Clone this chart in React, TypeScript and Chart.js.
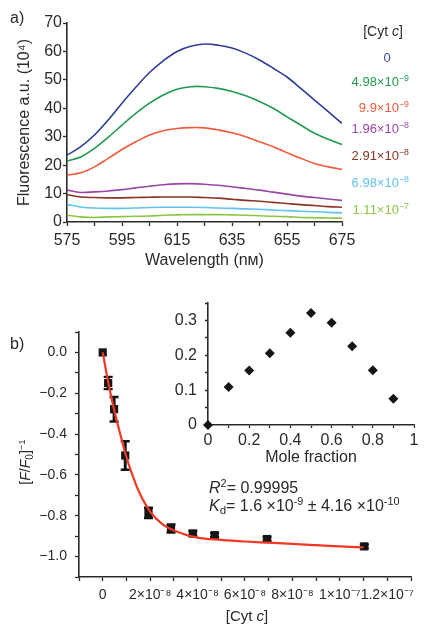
import React, { useEffect, useRef } from 'react';
import { Chart, registerables } from 'chart.js';

Chart.register(...registerables);

// ---------- Panel a: fluorescence spectra ----------
const WAVELENGTHS = [575, 580, 585, 590, 595, 600, 605, 610, 615, 620, 625, 630, 635, 640, 645, 650, 655, 660, 665, 670, 675];
const SPEC_0 = [23.5, 26.5, 30.6, 35.9, 41.8, 47.4, 52.6, 56.7, 60.0, 61.8, 62.6, 62.2, 61.2, 59.4, 57.0, 54.1, 51.0, 47.0, 42.9, 38.8, 34.7];
const SPEC_498E9 = [21.5, 22.9, 25.9, 29.8, 34.1, 38.2, 41.8, 44.7, 46.7, 47.6, 47.6, 47.0, 45.9, 44.4, 42.4, 40.0, 37.0, 34.1, 31.2, 29.1, 27.3];
const SPEC_99E9 = [16.5, 17.3, 19.4, 22.4, 25.5, 28.2, 30.6, 32.1, 32.9, 33.2, 33.1, 32.4, 31.4, 30.0, 28.2, 26.5, 24.4, 22.4, 20.6, 19.4, 18.5];
const SPEC_196E8 = [11.2, 10.4, 10.6, 10.9, 11.4, 12.0, 12.6, 13.1, 13.4, 13.5, 13.3, 12.9, 12.4, 11.8, 11.2, 10.5, 9.8, 9.1, 8.6, 8.1, 7.6];
const SPEC_291E8 = [9.6, 8.8, 8.6, 8.5, 8.5, 8.6, 8.7, 8.8, 8.8, 8.8, 8.6, 8.4, 8.0, 7.6, 7.3, 6.9, 6.5, 6.1, 5.8, 5.4, 5.2];
const SPEC_698E8 = [6.2, 5.3, 4.9, 4.8, 4.8, 4.9, 5.1, 5.2, 5.2, 5.2, 5.1, 4.9, 4.8, 4.6, 4.5, 4.2, 4.0, 3.8, 3.6, 3.4, 3.2];
const SPEC_111E7 = [2.4, 1.8, 1.6, 1.8, 1.9, 2.0, 2.1, 2.4, 2.5, 2.6, 2.6, 2.6, 2.5, 2.4, 2.2, 2.0, 1.9, 1.6, 1.5, 1.4, 1.3];
const SPECTRA = [SPEC_0, SPEC_498E9, SPEC_99E9, SPEC_196E8, SPEC_291E8, SPEC_698E8, SPEC_111E7];
const CONC_MANTISSA = ['0', '4.98×10', '9.9×10', '1.96×10', '2.91×10', '6.98×10', '1.11×10'];
const CONC_EXPONENT = ['', '−9', '−9', '−8', '−8', '−8', '−7'];

const A_X_TICKS = [575, 585, 595, 605, 615, 625, 635, 645, 655, 665, 675];
const A_X_LABELS = ['575', '', '595', '', '615', '', '635', '', '655', '', '675'];
const A_Y_TICKS = [0, 10, 20, 30, 40, 50, 60, 70];
const A_Y_LABELS = ['0', '10', '20', '30', '40', '50', '60', '70'];

// ---------- Panel b: titration ----------
const B_X = [0, 2.3e-9, 4.8e-9, 9.5e-9, 1.93e-8, 2.88e-8, 3.8e-8, 4.72e-8, 6.93e-8, 1.103e-7];
const B_Y = [0, -0.15, -0.278, -0.505, -0.786, -0.862, -0.887, -0.895, -0.914, -0.95];
const B_ERR = [0, 0.03, 0.06, 0.07, 0.025, 0.02, 0.012, 0.01, 0.01, 0.01];
const FIT_X = [0, 2.5e-9, 5e-9, 7.5e-9, 1e-8, 1.25e-8, 1.5e-8, 2e-8, 2.5e-8, 3e-8, 4e-8, 5e-8, 6e-8, 7e-8, 8e-8, 9e-8, 1e-7, 1.1e-7];
const FIT_Y = [0, -0.157, -0.29, -0.405, -0.512, -0.6, -0.675, -0.78, -0.84, -0.872, -0.907, -0.918, -0.926, -0.932, -0.938, -0.944, -0.95, -0.955];

const B_X_TICKS = [-1e-8, 0, 1e-8, 2e-8, 3e-8, 4e-8, 5e-8, 6e-8, 7e-8, 8e-8, 9e-8, 1e-7, 1.1e-7, 1.2e-7, 1.3e-7];
const B_X_LABELS = ['', '0', '', '2×10⁻⁸', '', '4×10⁻⁸', '', '6×10⁻⁸', '', '8×10⁻⁸', '', '1×10⁻⁷', '', '1.2×10⁻⁷', ''];
const B_Y_TICKS = [-1.1, -1.0, -0.9, -0.8, -0.7, -0.6, -0.5, -0.4, -0.3, -0.2, -0.1, 0, 0.1];
const B_Y_LABELS = ['', '−1.0', '', '−0.8', '', '−0.6', '', '−0.4', '', '−0.2', '', '0.0', ''];

// ---------- Inset: Job plot ----------
const JOB_X = [0, 0.1, 0.2, 0.3, 0.4, 0.5, 0.6, 0.7, 0.8, 0.9];
const JOB_Y = [0, 0.109, 0.156, 0.206, 0.265, 0.321, 0.293, 0.226, 0.157, 0.075];
const C_X_TICKS = [0, 0.1, 0.2, 0.3, 0.4, 0.5, 0.6, 0.7, 0.8, 0.9, 1];
const C_X_LABELS = ['0', '', '0.2', '', '0.4', '', '0.6', '', '0.8', '', '1'];
const C_Y_TICKS = [0, 0.05, 0.1, 0.15, 0.2, 0.25, 0.3, 0.35];
const C_Y_LABELS = ['0', '', '0.1', '', '0.2', '', '0.3', ''];

// ---------- styling ----------
const FONT = '"Liberation Sans", Arial, Helvetica, sans-serif';
const TEXT = '#2a2a2a';
const AXIS = '#2a2a2a';
const SERIES_COLORS = ['#2f3d97', '#1f9a4e', '#f05a3c', '#9a45a8', '#8a3324', '#62c3ee', '#8cc541'];
const LEGEND_COLORS = ['#3a4aa0', '#1f9a4e', '#f05a3c', '#9a45a8', '#8a3324', '#62c3ee', '#8cc541'];

type ScaleOpts = {
  axis: 'x' | 'y';
  min: number;
  max: number;
  ticks: number[];
  labels: string[];
  fontSize: number;
  tickLength: number;
  padding: number;
  fit: number;
  title?: { text: string; size: number; padTop?: number; padBottom?: number };
};

function makeScale(o: ScaleOpts): any {
  return {
    type: 'linear',
    min: o.min,
    max: o.max,
    afterBuildTicks: (s: any) => {
      s.ticks = o.ticks.map((v) => ({ value: v }));
    },
    afterFit: (s: any) => {
      if (o.axis === 'y') s.width = o.fit;
      else s.height = o.fit;
    },
    ticks: {
      autoSkip: false,
      maxRotation: 0,
      minRotation: 0,
      padding: o.padding,
      color: TEXT,
      font: { family: FONT, size: o.fontSize },
      callback: (_v: any, i: number) => o.labels[i],
    },
    grid: {
      drawOnChartArea: false,
      drawTicks: true,
      tickLength: o.tickLength,
      tickColor: AXIS,
      tickWidth: 1.3,
    },
    border: { display: true, color: AXIS, width: 1.6 },
    title: o.title
      ? {
          display: true,
          text: o.title.text,
          color: TEXT,
          font: { family: FONT, size: o.title.size },
          padding: { top: o.title.padTop ?? 0, bottom: o.title.padBottom ?? 0 },
        }
      : { display: false },
  };
}

const errorBarsPlugin = {
  id: 'errorBars',
  beforeDatasetsDraw(chart: any) {
    const { ctx, scales } = chart;
    const xs = scales.x;
    const ys = scales.y;
    ctx.save();
    ctx.strokeStyle = '#151515';
    B_X.forEach((xv, i) => {
      const e = B_ERR[i];
      if (!e) return;
      const px = xs.getPixelForValue(xv);
      const top = ys.getPixelForValue(B_Y[i] + e);
      const bot = ys.getPixelForValue(B_Y[i] - e);
      ctx.lineWidth = 3;
      ctx.beginPath();
      ctx.moveTo(px, top);
      ctx.lineTo(px, bot);
      ctx.stroke();
      ctx.lineWidth = 2.4;
      ctx.beginPath();
      ctx.moveTo(px - 4.5, top);
      ctx.lineTo(px + 4.5, top);
      ctx.moveTo(px - 4.5, bot);
      ctx.lineTo(px + 4.5, bot);
      ctx.stroke();
    });
    ctx.restore();
  },
};

function configA(): any {
  return {
    type: 'scatter',
    data: {
      datasets: SPECTRA.map((s, k) => ({
        data: WAVELENGTHS.map((w, i) => ({ x: w, y: s[i] })),
        showLine: true,
        borderColor: SERIES_COLORS[k],
        borderWidth: 1.6,
        pointRadius: 0,
        tension: 0.35,
        fill: false,
      })),
    },
    options: {
      responsive: false,
      animation: false,
      devicePixelRatio: 1,
      layout: { padding: { left: 0, top: 23, right: 104, bottom: 360 } },
      plugins: { legend: { display: false }, tooltip: { enabled: false } },
      events: [],
      scales: {
        x: makeScale({
          axis: 'x', min: 575, max: 675, ticks: A_X_TICKS, labels: A_X_LABELS,
          fontSize: 16, tickLength: 4, padding: 5, fit: 50,
          title: { text: 'Wavelength (nᴍ)', size: 16, padBottom: 2 },
        }),
        y: makeScale({
          axis: 'y', min: 0, max: 70, ticks: A_Y_TICKS, labels: A_Y_LABELS,
          fontSize: 16, tickLength: 4, padding: 1, fit: 67,
          title: { text: 'Fluorescence a.u. (10⁴)', size: 16, padTop: 15 },
        }),
      },
    },
  };
}

function configB(): any {
  return {
    type: 'scatter',
    data: {
      datasets: [
        {
          data: FIT_X.map((x, i) => ({ x, y: FIT_Y[i] })),
          showLine: true,
          borderColor: '#ee3a24',
          borderWidth: 2.2,
          pointRadius: 0,
          cubicInterpolationMode: 'monotone',
        },
        {
          data: B_X.map((x, i) => ({ x, y: B_Y[i] })),
          showLine: false,
          pointStyle: 'rect',
          pointRadius: 5.8,
          backgroundColor: '#151515',
          borderColor: '#151515',
          borderWidth: 0,
        },
      ],
    },
    options: {
      responsive: false,
      animation: false,
      devicePixelRatio: 1,
      layout: { padding: { left: 0, top: 332, right: 35, bottom: 0 } },
      plugins: { legend: { display: false }, tooltip: { enabled: false } },
      events: [],
      scales: {
        x: makeScale({
          axis: 'x', min: -1e-8, max: 1.3e-7, ticks: B_X_TICKS, labels: B_X_LABELS,
          fontSize: 14, tickLength: 4, padding: 6, fit: 55,
        }),
        y: makeScale({
          axis: 'y', min: -1.1, max: 0.1, ticks: B_Y_TICKS, labels: B_Y_LABELS,
          fontSize: 14, tickLength: 4, padding: 8, fit: 79,
        }),
      },
    },
    plugins: [errorBarsPlugin],
  };
}

function configC(): any {
  return {
    type: 'scatter',
    data: {
      datasets: [
        {
          data: JOB_X.map((x, i) => ({ x, y: JOB_Y[i] })),
          showLine: false,
          pointStyle: 'rectRot',
          pointRadius: 5,
          backgroundColor: '#151515',
          borderColor: '#151515',
          borderWidth: 0,
          clip: false,
        },
      ],
    },
    options: {
      responsive: false,
      animation: false,
      devicePixelRatio: 1,
      layout: { padding: { left: 0, top: 303, right: 32, bottom: 162 } },
      plugins: { legend: { display: false }, tooltip: { enabled: false } },
      events: [],
      scales: {
        x: makeScale({
          axis: 'x', min: 0, max: 1, ticks: C_X_TICKS, labels: C_X_LABELS,
          fontSize: 16, tickLength: 3, padding: 3, fit: 45,
          title: { text: 'Mole fraction', size: 16, padBottom: 3 },
        }),
        y: makeScale({
          axis: 'y', min: 0, max: 0.35, ticks: C_Y_TICKS, labels: C_Y_LABELS,
          fontSize: 16, tickLength: 3, padding: 8, fit: 208,
        }),
      },
    },
  };
}

const supStyle: React.CSSProperties = { fontSize: '0.68em', position: 'relative', top: '-0.55em', verticalAlign: 'baseline' };
const subStyle: React.CSSProperties = { fontSize: '0.72em', position: 'relative', top: '0.3em', verticalAlign: 'baseline' };

const LEGEND_LAYOUT = [
  { y: 57, center: 387 },
  { y: 81, right: 409 },
  { y: 107, right: 409 },
  { y: 128, right: 409 },
  { y: 155, right: 409 },
  { y: 182, right: 409 },
  { y: 209, right: 409 },
];

export default function App() {
  const refA = useRef<HTMLCanvasElement>(null);
  const refB = useRef<HTMLCanvasElement>(null);
  const refC = useRef<HTMLCanvasElement>(null);

  useEffect(() => {
    const charts = [
      new Chart(refA.current as HTMLCanvasElement, configA()),
      new Chart(refB.current as HTMLCanvasElement, configB()),
      new Chart(refC.current as HTMLCanvasElement, configC()),
    ];
    return () => charts.forEach((c) => c.destroy());
  }, []);

  const canvasStyle: React.CSSProperties = { position: 'absolute', left: 0, top: 0, width: 446, height: 632 };
  const abs = (extra: React.CSSProperties): React.CSSProperties => ({
    position: 'absolute', whiteSpace: 'nowrap', lineHeight: 1, ...extra,
  });

  return (
    <div style={{ position: 'absolute', left: 0, top: 0, width: 446, height: 632, background: '#fff', fontFamily: FONT, color: TEXT, overflow: 'hidden' }}>
      <canvas ref={refA} width={446} height={632} style={canvasStyle} />
      <canvas ref={refB} width={446} height={632} style={canvasStyle} />
      <canvas ref={refC} width={446} height={632} style={canvasStyle} />

      <div style={abs({ left: 10, top: 18, fontSize: 16, transform: 'translateY(-50%)' })}>a)</div>
      <div style={abs({ left: 10, top: 344, fontSize: 16, transform: 'translateY(-50%)' })}>b)</div>

      <div style={abs({ left: 383, top: 31, fontSize: 14, transform: 'translate(-50%, -50%)' })}>
        [Cyt <i>c</i>]
      </div>
      {CONC_MANTISSA.map((m, k) => {
        const L: any = LEGEND_LAYOUT[k];
        const style: React.CSSProperties = L.center !== undefined
          ? { left: L.center, top: L.y, transform: 'translate(-50%, -50%)' }
          : { right: 446 - L.right, top: L.y, transform: 'translateY(-50%)' };
        return (
          <div key={k} style={abs({ ...style, fontSize: 13, color: LEGEND_COLORS[k] })}>
            {m}
            {CONC_EXPONENT[k] ? <span style={supStyle}>{CONC_EXPONENT[k]}</span> : null}
          </div>
        );
      })}

      <div style={abs({ left: 25, top: 462, fontSize: 14, transform: 'translate(-50%, -50%) rotate(-90deg)' })}>
        [<i>F</i>/<i>F</i><span style={subStyle}>0</span>]<span style={supStyle}>−1</span>
      </div>
      <div style={abs({ left: 247, top: 615, fontSize: 15, transform: 'translate(-50%, -50%)' })}>
        [Cyt <i>c</i>]
      </div>

      <div style={abs({ left: 209, top: 488, fontSize: 16, transform: 'translateY(-50%)' })}>
        <i>R</i><span style={supStyle}>2</span>= 0.99995
      </div>
      <div style={abs({ left: 209, top: 506, fontSize: 16, transform: 'translateY(-50%)' })}>
        <i>K</i><span style={subStyle}>d</span>= 1.6 ×10<span style={supStyle}>-9</span> ± 4.16 ×10<span style={supStyle}>-10</span>
      </div>
    </div>
  );
}
